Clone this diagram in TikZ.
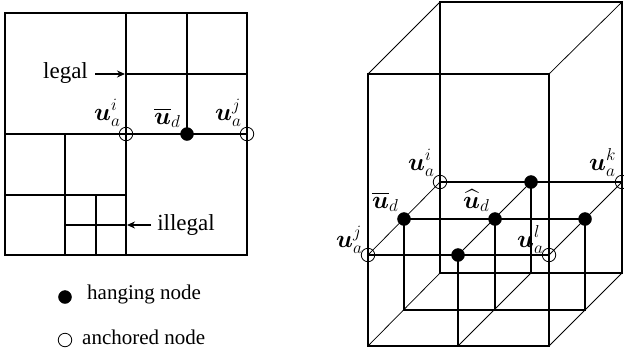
\documentclass[tikz,border=0pt]{standalone}
\usepackage{fontspec}
\usepackage{amsmath}
\usepackage{bm}
\setmainfont{Liberation Serif}
\usetikzlibrary{arrows.meta}
\tikzset{
  mesh/.style={line width=1.6pt,line cap=rect},
  diag/.style={line width=0.75pt},
  hangnode/.style={circle,fill=black,draw=black,line width=0.4pt,minimum size=13pt,inner sep=0pt,outer sep=0pt},
  anchornode/.style={circle,draw=black,line width=0.8pt,minimum size=13.5pt,inner sep=0pt,outer sep=0pt},
  txt/.style={font=\fontsize{23}{26}\selectfont,inner sep=0pt,anchor=base},
  legendtxt/.style={font=\fontsize{21}{25}\selectfont,inner sep=0pt,anchor=base west},
  mathlab/.style={font=\fontsize{25}{28}\selectfont,inner sep=0pt,anchor=base west},
  pointer/.style={line width=1.4pt,-{Stealth[length=8pt,width=7pt]}}
}
\begin{document}
\begin{tikzpicture}[x=1pt,y=-1pt]
\useasboundingbox (0,0) rectangle (624,354);
% left mesh
\draw[mesh] (5,13) rectangle (247,255);
\draw[mesh] (126,13) -- (126,255);
\draw[mesh] (5,134) -- (247,134);
\draw[mesh] (126,74) -- (247,74);
\draw[mesh] (187,13) -- (187,134);
\draw[mesh] (65,134) -- (65,255);
\draw[mesh] (5,195) -- (126,195);
\draw[mesh] (96,195) -- (96,255);
\draw[mesh] (65,225) -- (126,225);
\node[anchornode] (la) at (126,134) {};
\node[hangnode] (lh) at (187,134) {};
\node[anchornode] (lb) at (247,134) {};
\node[mathlab] (l1) at (94,120) {$\bm{u}_a^i$};
\node[mathlab] (l2) at (154,124) {$\overline{\bm{u}}_d$};
\node[mathlab] (l3) at (215,120) {$\bm{u}_a^j$};
\node[txt] (legal) at (65.5,78.5) {legal};
\node[txt] (illegal) at (186,230) {illegal};
\coordinate (legalend) at (125,74);
\coordinate (illegalend) at (127,225);
\coordinate (legalstart) at (95,74);
\coordinate (illegalstart) at (151,225);
\draw[pointer] (legalstart) -- (legalend);
\draw[pointer] (illegalstart) -- (illegalend);
% legend
\node[hangnode] (kh) at (65,297) {};
\node[anchornode] (ka) at (65,340) {};
\node[legendtxt] (kht) at (87,299) {hanging node};
\node[legendtxt] (kat) at (82,344) {anchored node};
% right box: thin diagonals
\draw[diag] (368,74) -- (440,2);
\draw[diag] (549,74) -- (622,2);
\draw[diag] (368,255) -- (440,182);
\draw[diag] (458,255) -- (531,182);
\draw[diag] (549,255) -- (622,182);
\draw[diag] (368,346) -- (440,273);
\draw[diag] (458,346) -- (531,273);
\draw[diag] (549,346) -- (622,273);
% right box: thick lines
\draw[mesh] (368,74) rectangle (549,346);
\draw[mesh] (440,2) rectangle (622,273);
\draw[mesh] (368,255) -- (549,255);
\draw[mesh] (440,182) -- (622,182);
\draw[mesh] (404,219) -- (585,219);
\draw[mesh] (404,310) -- (585,310);
\draw[mesh] (404,219) -- (404,310);
\draw[mesh] (495,219) -- (495,310);
\draw[mesh] (585,219) -- (585,310);
\draw[mesh] (458,255) -- (458,346);
\draw[mesh] (531,182) -- (531,273);
\node[anchornode] (ra) at (440,182) {};
\node[anchornode] (rk) at (622,182) {};
\node[anchornode] (rj) at (368,255) {};
\node[anchornode] (rl) at (549,255) {};
\node[hangnode] (r1) at (531,182) {};
\node[hangnode] (r2) at (404,219) {};
\node[hangnode] (r3) at (495,219) {};
\node[hangnode] (r4) at (585,219) {};
\node[hangnode] (r5) at (458,255) {};
\node[mathlab] (t1) at (408,170) {$\bm{u}_a^i$};
\node[mathlab] (t2) at (589,170) {$\bm{u}_a^k$};
\node[mathlab] (t3) at (372,208) {$\overline{\bm{u}}_d$};
\node[mathlab] (t4) at (463,208) {$\widehat{\bm{u}}_d$};
\node[mathlab] (t5) at (336,247) {$\bm{u}_a^j$};
\node[mathlab] (t6) at (517,247) {$\bm{u}_a^l$};
\end{tikzpicture}
\end{document}
